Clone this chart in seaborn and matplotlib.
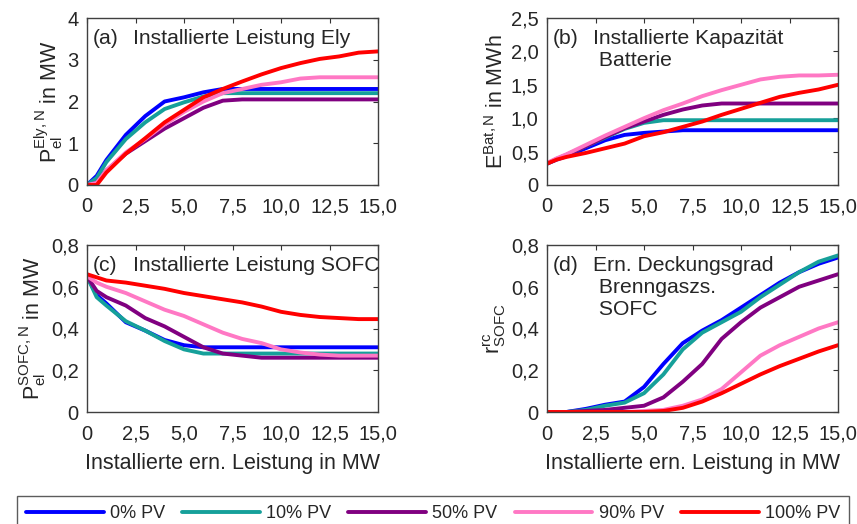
import matplotlib
matplotlib.use("Agg")
import matplotlib.pyplot as plt
import seaborn as sns
import pandas as pd
import numpy as np
from matplotlib.lines import Line2D
from matplotlib.ticker import FuncFormatter

x = [0, 0.5, 1, 2, 3, 4, 5, 6, 7, 8, 9, 10, 11, 12, 13, 14, 15]
series = ["0% PV", "10% PV", "50% PV", "90% PV", "100% PV"]
colors = ["#0000ff", "#16a09a", "#800080", "#ff78c4", "#ff0000"]

# (a) Installierte Leistung Ely (MW)
ely_0 = [0, 0.22, 0.6, 1.2, 1.65, 2.0, 2.1, 2.22, 2.3, 2.3, 2.3, 2.3, 2.3, 2.3, 2.3, 2.3, 2.3]
ely_10 = [0, 0.17, 0.55, 1.1, 1.5, 1.82, 1.98, 2.12, 2.2, 2.2, 2.2, 2.2, 2.2, 2.2, 2.2, 2.2, 2.2]
ely_50 = [0, 0.05, 0.35, 0.75, 1.05, 1.35, 1.6, 1.85, 2.02, 2.05, 2.05, 2.05, 2.05, 2.05, 2.05, 2.05, 2.05]
ely_90 = [0, 0.05, 0.35, 0.78, 1.1, 1.45, 1.75, 2.0, 2.2, 2.3, 2.4, 2.46, 2.55, 2.58, 2.58, 2.58, 2.58]
ely_100 = [0, 0, 0.3, 0.75, 1.12, 1.5, 1.8, 2.1, 2.3, 2.48, 2.65, 2.8, 2.92, 3.02, 3.08, 3.17, 3.2]

# (b) Installierte Kapazitaet Batterie (MWh)
bat_0 = [0.32, 0.38, 0.43, 0.55, 0.67, 0.75, 0.78, 0.8, 0.82, 0.82, 0.82, 0.82, 0.82, 0.82, 0.82, 0.82, 0.82]
bat_10 = [0.32, 0.39, 0.45, 0.58, 0.71, 0.84, 0.93, 0.97, 0.97, 0.97, 0.97, 0.97, 0.97, 0.97, 0.97, 0.97, 0.97]
bat_50 = [0.32, 0.39, 0.45, 0.58, 0.72, 0.85, 0.95, 1.05, 1.13, 1.19, 1.22, 1.22, 1.22, 1.22, 1.22, 1.22, 1.22]
bat_90 = [0.33, 0.4, 0.46, 0.6, 0.74, 0.87, 1.0, 1.12, 1.22, 1.33, 1.42, 1.5, 1.58, 1.62, 1.64, 1.64, 1.65]
bat_100 = [0.32, 0.38, 0.42, 0.48, 0.55, 0.62, 0.73, 0.79, 0.87, 0.95, 1.05, 1.14, 1.23, 1.32, 1.38, 1.43, 1.5]

# (c) Installierte Leistung SOFC (MW)
sofc_0 = [0.65, 0.56, 0.52, 0.43, 0.39, 0.345, 0.32, 0.31, 0.31, 0.31, 0.31, 0.31, 0.31, 0.31, 0.31, 0.31, 0.31]
sofc_10 = [0.65, 0.55, 0.51, 0.435, 0.39, 0.34, 0.30, 0.28, 0.28, 0.28, 0.28, 0.28, 0.28, 0.28, 0.28, 0.28, 0.28]
sofc_50 = [0.65, 0.58, 0.55, 0.51, 0.45, 0.41, 0.36, 0.31, 0.28, 0.27, 0.26, 0.26, 0.26, 0.26, 0.26, 0.26, 0.26]
sofc_90 = [0.65, 0.62, 0.60, 0.57, 0.53, 0.49, 0.46, 0.42, 0.38, 0.35, 0.33, 0.30, 0.285, 0.275, 0.27, 0.27, 0.27]
sofc_100 = [0.66, 0.645, 0.63, 0.62, 0.605, 0.59, 0.57, 0.555, 0.54, 0.525, 0.505, 0.48, 0.465, 0.455, 0.45, 0.445, 0.445]

# (d) Ern. Deckungsgrad Brenngaszs. SOFC
rc_0 = [0, 0, 0, 0.015, 0.035, 0.05, 0.12, 0.23, 0.33, 0.39, 0.44, 0.5, 0.56, 0.62, 0.67, 0.71, 0.74]
rc_10 = [0, 0, 0, 0.01, 0.03, 0.045, 0.09, 0.18, 0.3, 0.38, 0.43, 0.48, 0.55, 0.61, 0.67, 0.72, 0.75]
rc_50 = [0, 0, 0, 0.005, 0.01, 0.02, 0.03, 0.07, 0.145, 0.23, 0.35, 0.43, 0.5, 0.55, 0.6, 0.63, 0.66]
rc_90 = [0, 0, 0, 0, 0, 0, 0.005, 0.01, 0.03, 0.06, 0.11, 0.19, 0.27, 0.32, 0.36, 0.4, 0.43]
rc_100 = [0, 0, 0, 0, 0, 0, 0, 0.005, 0.02, 0.05, 0.09, 0.135, 0.18, 0.22, 0.255, 0.29, 0.32]

panels = [
    ([ely_0, ely_10, ely_50, ely_90, ely_100], (0, 4), [0, 1, 2, 3, 4],
     r"$\mathrm{P_{el}^{Ely,N}}$ in MW", "(a)", "Installierte Leistung Ely"),
    ([bat_0, bat_10, bat_50, bat_90, bat_100], (0, 2.5), [0, 0.5, 1, 1.5, 2, 2.5],
     r"$\mathrm{E^{Bat,N}}$ in MWh", "(b)", "Installierte Kapazität\n Batterie"),
    ([sofc_0, sofc_10, sofc_50, sofc_90, sofc_100], (0, 0.8), [0, 0.2, 0.4, 0.6, 0.8],
     r"$\mathrm{P_{el}^{SOFC,N}}$ in MW", "(c)", "Installierte Leistung SOFC"),
    ([rc_0, rc_10, rc_50, rc_90, rc_100], (0, 0.8), [0, 0.2, 0.4, 0.6, 0.8],
     r"$\mathrm{r_{SOFC}^{rc}}$", "(d)", "Ern. Deckungsgrad\n Brenngaszs.\n SOFC"),
]

sns.set_theme(style="white")
plt.rcParams["font.family"] = ["Liberation Sans", "DejaVu Sans"]
plt.rcParams["mathtext.fontset"] = "custom"
plt.rcParams["mathtext.rm"] = "Liberation Sans"
plt.rcParams["mathtext.it"] = "Liberation Sans:italic"
plt.rcParams["text.color"] = "#262626"

W, H = 857, 524
fig = plt.figure(figsize=(W / 100, H / 100), dpi=100)

boxes = [(87, 18), (547, 18), (87, 245), (547, 245)]
aw, ah = 291, 167


def fmt(v, pos):
    if abs(v) < 1e-9:
        return "0"
    return f"{v:.1f}".replace(".", ",")


palette = dict(zip(series, colors))
for i, (data, ylim, yticks, ylabel, tag, title) in enumerate(panels):
    l, t = boxes[i]
    ax = fig.add_axes([l / W, 1 - (t + ah) / H, aw / W, ah / H])
    df = pd.DataFrame({
        "x": np.tile(x, len(series)),
        "y": np.concatenate(data),
        "s": np.repeat(series, len(x)),
    })
    sns.lineplot(data=df, x="x", y="y", hue="s", palette=palette, ax=ax,
                 linewidth=2.8, legend=False, hue_order=series)
    ax.set_xlim(0, 15)
    ax.set_ylim(*ylim)
    ax.set_xticks([0, 2.5, 5, 7.5, 10, 12.5, 15])
    ax.set_yticks(yticks)
    ax.xaxis.set_major_formatter(FuncFormatter(fmt))
    if i == 0:
        ax.yaxis.set_major_formatter(FuncFormatter(lambda v, p: f"{int(v)}"))
    else:
        ax.yaxis.set_major_formatter(FuncFormatter(fmt))
    ax.tick_params(direction="in", length=3.5, width=0.8, labelsize=14.5,
                   colors="#333333", labelcolor="#262626", top=True, right=True)
    ax.tick_params(axis="x", pad=9)
    ax.tick_params(axis="y", pad=6)
    for sp in ax.spines.values():
        sp.set_color("#404040")
        sp.set_linewidth(1.0)
    ax.set_ylabel(ylabel, fontsize=15.5, labelpad=2)
    if i >= 2:
        ax.set_xlabel("Installierte ern. Leistung in MW", fontsize=15.5, labelpad=7)
    else:
        ax.set_xlabel("")
    ax.text(6 / aw, 1 - 11 / ah, tag, transform=ax.transAxes, fontsize=15.2,
            va="top", ha="left")
    ax.text(46 / aw, 1 - 11 / ah, title, transform=ax.transAxes, fontsize=15.2,
            va="top", ha="left", linespacing=1.2)

handles = [Line2D([], [], color=c, linewidth=2.8) for c in colors]
leg = fig.legend(handles, series, loc="upper left",
                 bbox_to_anchor=(17 / W, 1 - 496 / H), ncol=5, fontsize=13,
                 frameon=True, fancybox=False, handlelength=4.3,
                 handletextpad=0.35, columnspacing=0.95, borderpad=0.5,
                 borderaxespad=0)
leg.get_frame().set_edgecolor("#333333")
leg.get_frame().set_linewidth(1.0)

fig.savefig("out.png", dpi=100)
